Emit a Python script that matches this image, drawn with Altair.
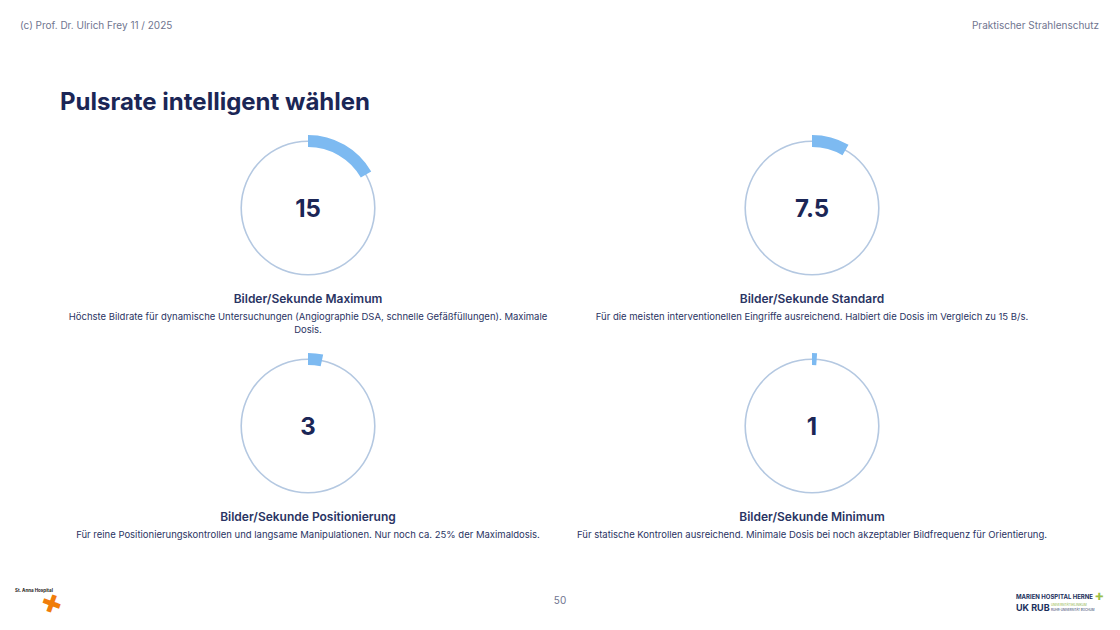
import math
import altair as alt
import pandas as pd

# ---- data ----
rates = [15, 7.5, 3, 1]
rate_labels = ["15", "7.5", "3", "1"]
titles = [
    "Bilder/Sekunde Maximum",
    "Bilder/Sekunde Standard",
    "Bilder/Sekunde Positionierung",
    "Bilder/Sekunde Minimum",
]
descriptions = [
    "Höchste Bildrate für dynamische Untersuchungen (Angiographie DSA, schnelle Gefäßfüllungen). Maximale\nDosis.",
    "Für die meisten interventionellen Eingriffe ausreichend. Halbiert die Dosis im Vergleich zu 15 B/s.",
    "Für reine Positionierungskontrollen und langsame Manipulationen. Nur noch ca. 25% der Maximaldosis.",
    "Für statische Kontrollen ausreichend. Minimale Dosis bei noch akzeptabler Bildfrequenz für Orientierung.",
]
gauge_max = 90  # full circle

# ---- layout (chart pixel coordinates) ----
col_x = [300, 804, 300, 804]
row_y = [200, 200, 418, 418]

FONT = "Inter"
NAVY = "#1b2656"
TEXT = "#2a3463"
GREY = "#70758f"

df = pd.DataFrame({
    "rate": rates,
    "label": rate_labels,
    "title": titles,
    "desc": descriptions,
    "cx": col_x,
    "cy": row_y,
})
df["start"] = 0.0
df["num_y"] = df["cy"] + 2
df["title_y"] = df["cy"] + 91
df["desc_y"] = df["cy"] + 109

base = alt.Chart(df)
X = alt.X("cx:Q", scale=None, axis=None)
Y = alt.Y("cy:Q", scale=None, axis=None)

ring = base.mark_arc(innerRadius=66, outerRadius=67.6, color="#b4c8e1").encode(
    x=X, y=Y, theta=alt.value(0), theta2=alt.value(2 * math.pi)
)

arc = base.mark_arc(innerRadius=61, outerRadius=73, color="#7dbaf1").encode(
    x=X,
    y=Y,
    theta=alt.Theta("start:Q", scale=alt.Scale(domain=[0, gauge_max], range=[0, 2 * math.pi])),
    theta2="rate:Q",
)

numbers = base.mark_text(font=FONT, fontSize=24, fontWeight="bold", color=NAVY,
                         baseline="middle", align="center").encode(
    x=X, y=alt.Y("num_y:Q", scale=None, axis=None), text="label:N"
)

gtitles = base.mark_text(font=FONT, fontSize=12, fontWeight=600, color=TEXT,
                         baseline="middle", align="center").encode(
    x=X, y=alt.Y("title_y:Q", scale=None, axis=None), text="title:N"
)

gdesc = base.mark_text(font=FONT, fontSize=9.5, color=TEXT, baseline="middle",
                       align="center", lineBreak="\n", lineHeight=13).encode(
    x=X, y=alt.Y("desc_y:Q", scale=None, axis=None), text="desc:N"
)

# ---- page decorations ----
deco = pd.DataFrame({"d": [0]})


def txt(s, x, y, size, color, weight="normal", align="left", angle=0, font=FONT):
    return alt.Chart(deco).mark_text(
        text=s, font=font, fontSize=size, color=color, fontWeight=weight,
        align=align, baseline="middle", angle=angle
    ).encode(x=alt.value(x), y=alt.value(y))


header_l = txt("(c) Prof. Dr. Ulrich Frey 11 / 2025", 12, 18, 10, GREY)
header_r = txt("Praktischer Strahlenschutz", 1091, 18, 10, GREY, align="right")
title = txt("Pulsrate intelligent wählen", 52, 95, 24, NAVY, weight="bold")
page_no = txt("50", 552, 593, 10, GREY, align="center")
anna = txt("St. Anna Hospital", 7, 583, 4.5, "#222222", weight="bold")
cross = txt("✚", 43, 597, 24, "#f07d0a", align="center", angle=20, font="DejaVu Sans")
marien = txt("MARIEN HOSPITAL HERNE", 1008, 589, 6, "#1b2f5c", weight="bold")
ukrub = txt("UK RUB", 1008, 600, 9, "#1b2f5c", weight="bold")
ukrub2 = txt("UNIVERSITÄTSKLINIKUM", 1043, 597, 3, "#8ab23c")
ukrub3 = txt("RUHR-UNIVERSITÄT BOCHUM", 1043, 602, 3, "#1b2f5c")
green = txt("✚", 1087, 589, 10, "#9cc04a", font="DejaVu Sans")

chart = alt.layer(
    ring, arc, numbers, gtitles, gdesc,
    header_l, header_r, title, page_no, anna, cross, marien, ukrub, ukrub2, ukrub3, green,
).properties(
    width=1104, height=614,
    autosize=alt.AutoSizeParams(type="fit", contains="padding"),
    padding=0,
    background="white",
).configure_view(stroke=None)

chart.save("out.html", embed_options={"renderer": "svg", "actions": False})
